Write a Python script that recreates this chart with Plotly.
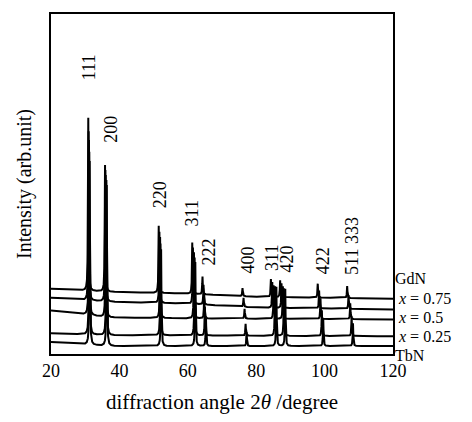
import numpy as np
import plotly.graph_objects as go

# ---- data (intensity in arbitrary units) ----
series_names = ["GdN", "x = 0.75", "x = 0.5", "x = 0.25", "TbN"]
series_labels = ["GdN", " <i>x</i> = 0.75", " <i>x</i> = 0.5", " <i>x</i> = 0.25", "TbN"]
label_y = [76, 56.5, 37, 17.5, -2]

# baseline anchor points (2theta, intensity) for each series
base_x_gdn = [20, 36, 60, 80, 120];  base_y_gdn = [66, 63, 61, 58, 56]
base_x_075 = [20, 36, 60, 80, 120];  base_y_075 = [57, 53, 51, 47, 45]
base_x_050 = [20, 30, 36, 60, 120];  base_y_050 = [44, 40, 37, 36, 35]
base_x_025 = [20, 36, 120];          base_y_025 = [21, 19, 18]
base_x_tbn = [20, 36, 120];          base_y_tbn = [12, 8, 8]

# peak positions (2theta, degree) per series: 111 200 220 311 222 400 331 420 422 511
pos_gdn = [30.9, 35.8, 51.5, 61.3, 64.3, 76.0, 84.3, 87.0, 98.0, 106.6]
pos_075 = [31.0, 35.9, 51.7, 61.5, 64.6, 76.3, 84.7, 87.4, 98.4, 107.0]
pos_050 = [31.1, 36.0, 51.9, 61.8, 64.8, 76.6, 85.1, 87.8, 98.8, 107.5]
pos_025 = [31.2, 36.2, 52.0, 62.0, 65.0, 76.9, 85.5, 88.1, 99.2, 107.9]
pos_tbn = [31.3, 36.3, 52.2, 62.2, 65.3, 77.2, 85.9, 88.5, 99.6, 108.3]

# peak heights above baseline
h_gdn = [175, 128, 68, 52, 18, 8, 18, 17, 14, 12]
h_075 = [171, 133, 72, 57, 20, 9, 26, 25, 18, 14]
h_050 = [177, 144, 82, 67, 25, 10, 34, 33, 21, 16]
h_025 = [185, 157, 93, 79, 29, 12, 50, 48, 26, 20]
h_tbn = [186, 163, 98, 85, 30, 14, 60, 58, 28, 23]

# reflection labels
refl_text = ["111", "200", "220", "311", "222", "400", "311", "420", "422", "511 333"]
refl_x = [31.1, 37.5, 51.9, 61.5, 66.2, 77.6, 84.6, 89.0, 99.8, 108.0]
refl_y = [276, 213, 146, 128, 88, 81, 83, 82, 80, 79]

x_ticks = [20, 40, 60, 80, 100, 120]
Y_RANGE = [0, 344]

base_x = [base_x_gdn, base_x_075, base_x_050, base_x_025, base_x_tbn]
base_y = [base_y_gdn, base_y_075, base_y_050, base_y_025, base_y_tbn]
positions = [pos_gdn, pos_075, pos_050, pos_025, pos_tbn]
heights = [h_gdn, h_075, h_050, h_025, h_tbn]

FONT = "Liberation Serif, Times New Roman, serif"
grid = np.arange(20, 120.0001, 0.01)
gamma = 0.1

fig = go.Figure()
for i in range(5):
    y = np.interp(grid, base_x[i], base_y[i])
    for p, h in zip(positions[i], heights[i]):
        y = y + h * gamma**2 / ((grid - p) ** 2 + gamma**2)
    fig.add_trace(go.Scatter(x=grid, y=y, mode="lines",
                             line=dict(color="black", width=2),
                             name=series_names[i], showlegend=False,
                             hoverinfo="skip"))
    fig.add_annotation(x=1, y=(label_y[i] - Y_RANGE[0]) / (Y_RANGE[1] - Y_RANGE[0]),
                       xref="paper", yref="paper",
                       text=series_labels[i], showarrow=False,
                       xanchor="left", yanchor="middle", xshift=1,
                       borderpad=0,
                       font=dict(family=FONT, size=16, color="black"))

for t, xx, yy in zip(refl_text, refl_x, refl_y):
    fig.add_annotation(x=xx, y=yy, xref="x", yref="y", text=t,
                       showarrow=False, textangle=-90,
                       xanchor="center", yanchor="bottom", borderpad=0,
                       font=dict(family=FONT, size=18, color="black"))

fig.update_xaxes(range=[20, 120], tickvals=x_ticks, ticks="",
                 showgrid=False, zeroline=False,
                 showline=True, mirror=True, linecolor="black", linewidth=1.5,
                 tickfont=dict(family=FONT, size=18, color="black"),
                 title=dict(text="diffraction angle 2<i>θ</i> /degree",
                            font=dict(family=FONT, size=21, color="black"),
                            standoff=14))
fig.update_yaxes(range=Y_RANGE, showticklabels=False, ticks="",
                 showgrid=False, zeroline=False,
                 showline=True, mirror=True, linecolor="black", linewidth=1.5,
                 title=dict(text="Intensity (arb.unit)",
                            font=dict(family=FONT, size=20, color="black"),
                            standoff=12))

fig.update_layout(width=472, height=422,
                  margin=dict(l=51, r=79, t=12, b=66),
                  paper_bgcolor="white", plot_bgcolor="white")

fig.write_html("out.html")
